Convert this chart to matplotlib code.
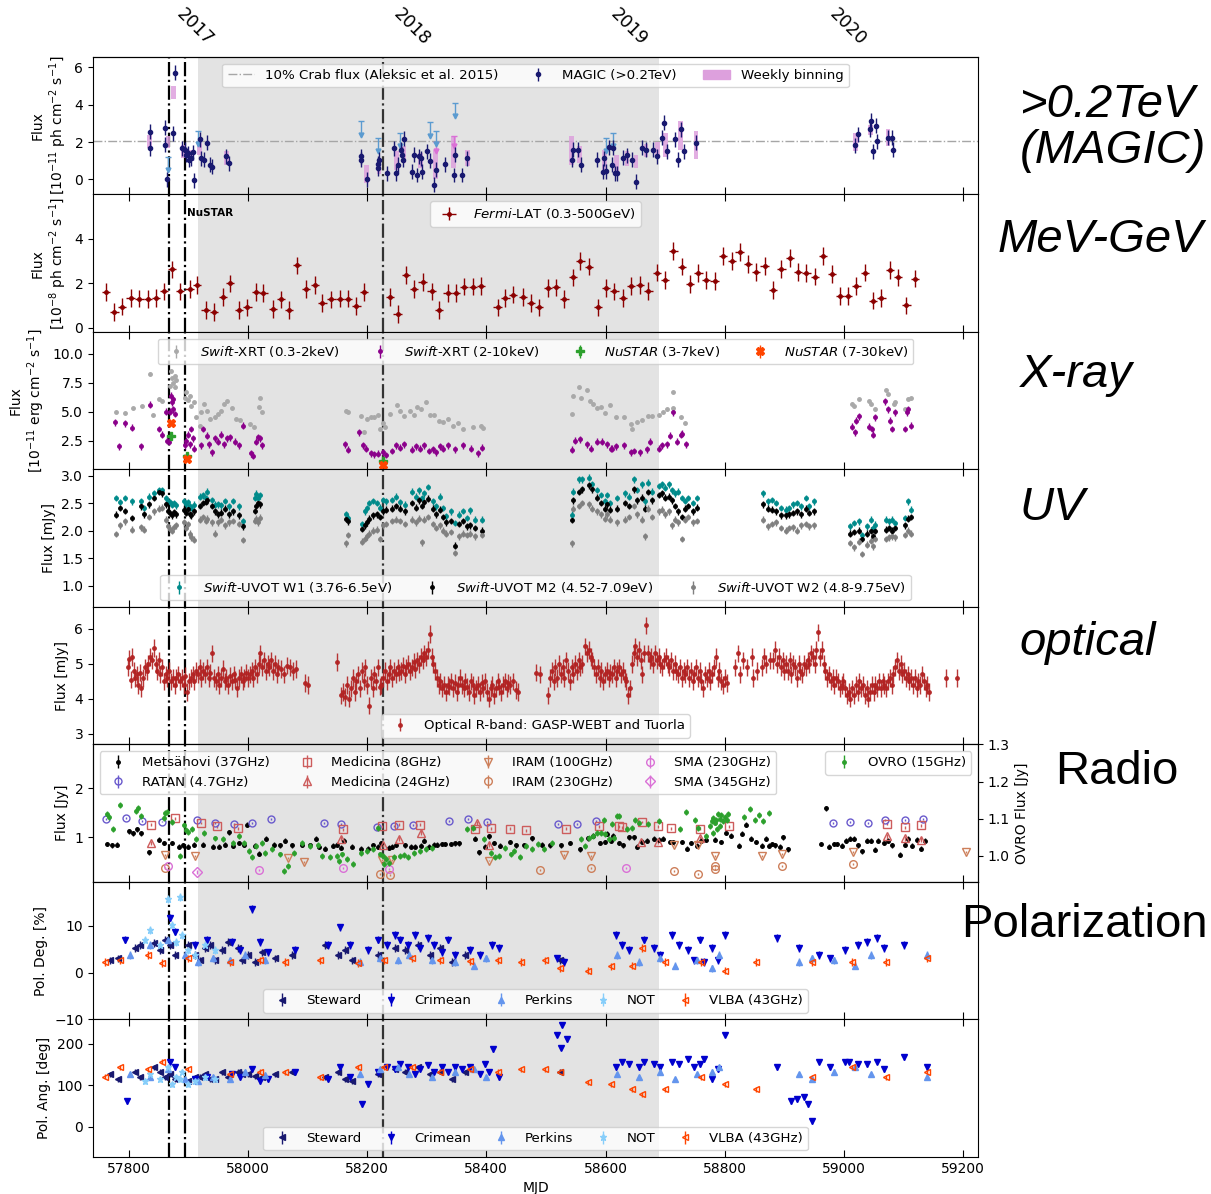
import numpy as np
import matplotlib.pyplot as plt
from matplotlib.patches import Patch
from matplotlib.lines import Line2D

# ---------------- VHE gamma rays (MAGIC, >0.2 TeV) ----------------
magic_mjd = [57835, 57835, 57861, 57861, 57865, 57875, 57878, 57889, 57894, 57896, 57899, 57901,
             57904, 57908, 57910, 57919, 57922, 57927, 57932, 57936, 57939, 57964, 57968,
             58189, 58190, 58199, 58218, 58219, 58220, 58234, 58245, 58249, 58252, 58257, 58259,
             58261, 58262, 58275, 58279, 58283, 58287, 58290, 58292, 58300, 58305, 58312, 58315,
             58331, 58345, 58347, 58360, 58368,
             58543, 58546, 58554, 58559, 58585, 58595, 58598, 58605, 58611, 58616, 58600, 58613,
             58619, 58629, 58636, 58644, 58651, 58661, 58668, 58679, 58687, 58694, 58698, 58703,
             58716, 58721, 58726, 58731, 58752,
             59019, 59023, 59043, 59046, 59049, 59054, 59056, 59074, 59080, 59083]
magic_flux = [2.55, 1.68, 2.77, 1.87, 0.0, 2.48, 5.7, 1.68, 1.6, 1.32, 1.41, 1.05,
              1.14, 1.45, -0.04, 2.14, 1.14, 1.05, 1.96, 0.78, 0.69, 1.23, 0.87,
              1.05, 1.23, 0.0, 0.6, 0.83, 1.05, 0.33, 1.68, 0.33, 0.78, 1.6, 1.32,
              1.05, 2.19, 0.42, 1.32, 0.24, 1.23, 1.14, 0.42, 1.5, 1.0, -0.27, 0.51,
              0.82, 0.24, 1.32, 0.24, 1.14,
              1.05, 1.6, 1.6, 0.78, 1.05, 0.42, 1.14, 1.72, 0.78, 0.33, 0.43, 1.69,
              0.34, 1.15, 1.3, 1.06, -0.11, 1.69, 1.6, 1.6, 1.24, 2.23, 3.04, 1.51,
              2.15, 1.06, 2.69, 1.51, 1.96,
              1.82, 2.42, 2.69, 3.14, 1.51, 2.87, 2.05, 2.23, 2.23, 1.6]
magic_ul_mjd = [57866, 57917, 58190, 58218, 58255, 58305, 58315, 58347, 58600, 58613]
magic_ul = [1.2, 2.6, 3.1, 2.2, 2.5, 3.05, 2.6, 4.1, 2.2, 2.5]
week_mjd = [57835, 57866, 57875, 57892, 57905, 57919, 57964, 58199, 58220, 58249, 58262, 58290,
            58315, 58345, 58368, 58543, 58556, 58598, 58619, 58636, 58651, 58668, 58687, 58700,
            58726, 58752, 59019, 59045, 59074]
week_lo = [1.7, 1.7, 4.3, 1.15, 1.0, 1.3, 0.8, -0.2, 0.3, 0.5, 0.9, 0.6,
           0.0, 0.6, 0.7, 0.8, 0.9, 0.5, 0.4, 0.7, 0.6, 1.2, 1.3, 1.2,
           1.6, 1.1, 1.5, 2.4, 1.8]
week_hi = [2.4, 2.3, 5.0, 1.85, 1.6, 2.0, 1.5, 0.8, 1.0, 1.5, 1.8, 1.4,
           1.6, 2.3, 1.6, 2.3, 1.8, 1.6, 1.3, 1.5, 1.3, 1.9, 2.0, 2.5,
           3.1, 2.6, 2.5, 2.9, 2.7]
week_ul_mjd = [58315, 58345]
week_ul = [2.0, 2.3]
crab10 = 2.07

# ---------------- Fermi-LAT ----------------
fermi_mjd = [57762, 57776, 57789, 57803, 57818, 57832, 57846, 57859, 57873, 57886, 57902, 57915,
             57929, 57943, 57958, 57970, 57985, 57999, 58013, 58026, 58042, 58055, 58069, 58082,
             58097, 58112, 58125, 58140, 58154, 58168, 58182, 58195, 58238, 58251, 58265, 58279,
             58293, 58308, 58321, 58335, 58349, 58363, 58378, 58391, 58419, 58432, 58445, 58461,
             58475, 58488, 58503, 58517, 58531, 58545, 58558, 58572, 58587, 58601, 58615, 58629,
             58643, 58658, 58672, 58686, 58700, 58714, 58728, 58742, 58756, 58769, 58783, 58797,
             58812, 58825, 58839, 58853, 58867, 58881, 58895, 58909, 58923, 58937, 58951, 58965,
             58980, 58993, 59007, 59021, 59035, 59049, 59063, 59077, 59091, 59105, 59119]
fermi_flux = [1.6, 0.7, 0.96, 1.35, 1.32, 1.31, 1.34, 1.64, 2.63, 1.64, 1.75, 1.93,
              0.81, 0.7, 1.38, 2.0, 0.79, 0.92, 1.63, 1.57, 0.84, 1.28, 0.8, 2.81,
              1.76, 1.93, 1.13, 1.28, 1.32, 1.32, 0.99, 1.6, 1.4, 0.63, 2.37, 1.75,
              2.07, 1.64, 0.81, 1.57, 1.57, 1.86, 1.86, 1.89, 0.92, 1.34, 1.5, 1.38,
              1.13, 0.92, 1.79, 1.82, 1.31, 2.27, 3.0, 2.76, 0.92, 1.79, 1.64, 1.33,
              1.87, 1.93, 1.66, 2.49, 2.16, 3.45, 2.76, 1.97, 2.46, 2.16, 2.12, 3.23,
              3.0, 3.4, 2.86, 2.52, 2.79, 1.7, 2.64, 3.16, 2.52, 2.46, 2.31, 3.23,
              2.44, 1.42, 1.45, 1.87, 2.49, 1.23, 1.33, 2.59, 2.27, 1.01, 2.22]

# ---------------- X-rays ----------------
xrt_soft_mjd = [57778, 57793, 57807, 57823, 57835, 57840, 57850, 57856, 57870, 57871, 57872, 57875,
                57877, 57878, 57879, 57894, 57896, 57899, 57902, 57904, 57909, 57912, 57919, 57922,
                57927, 57932, 57937, 57945, 57950, 57955, 57960, 57965, 57973, 57980, 57987, 58003,
                58010, 58018, 58021, 58023,
                58164, 58168, 58189, 58195, 58199, 58206, 58212, 58219, 58222, 58226, 58230, 58239,
                58250, 58255, 58262, 58272, 58278, 58283, 58290, 58298, 58305, 58313, 58320, 58328,
                58336, 58344, 58353, 58361, 58378, 58391, 58394,
                58543, 58546, 58555, 58559, 58569, 58574, 58579, 58585, 58592, 58599, 58608, 58617,
                58631, 58642, 58645, 58653, 58661, 58672, 58678, 58689, 58697, 58703, 58713, 58714,
                58726, 58734,
                59013, 59017, 59026, 59042, 59046, 59053, 59071, 59074, 59084, 59086, 59103, 59108,
                59113]
xrt_soft = [5.0, 4.9, 5.3, 5.5, 8.3, 4.7, 6.1, 5.9, 7.2, 8.5, 7.9, 7.5,
            8.1, 7.1, 7.7, 6.2, 6.7, 6.0, 6.4, 5.5, 5.8, 4.5, 3.8, 5.0,
            5.7, 5.1, 4.4, 4.5, 4.8, 5.1, 5.7, 5.9, 5.3, 4.4, 4.3, 3.9,
            3.7, 5.4, 6.2, 5.0,
            5.1, 5.0, 4.6, 3.2, 4.4, 4.5, 4.5, 4.7, 3.5, 4.0, 3.7, 4.8,
            5.6, 5.1, 4.6, 5.1, 4.7, 5.4, 5.2, 5.8, 4.7, 4.7, 4.2, 4.1,
            4.4, 3.8, 4.0, 3.5, 3.7, 3.8, 3.6,
            4.8, 6.4, 7.1, 6.2, 6.9, 5.9, 5.7, 5.3, 5.4, 4.9, 5.6, 4.5,
            4.5, 3.95, 3.5, 4.1, 4.3, 4.6, 4.6, 4.7, 5.0, 5.2, 6.7, 5.3,
            4.5, 4.0,
            5.7, 5.5, 6.1, 5.9, 5.7, 5.2, 6.9, 6.5, 5.7, 5.8, 5.2, 6.1,
            6.2]
xrt_hard_mjd = [57777, 57784, 57793, 57805, 57821, 57835, 57850, 57856, 57863, 57865, 57868, 57870,
                57871, 57872, 57874, 57875, 57877, 57894, 57896, 57899, 57902, 57904, 57907, 57910,
                57922, 57925, 57931, 57935, 57939, 57944, 57950, 57955, 57960, 57965, 57970, 57978,
                57985, 57991, 58005, 58009, 58013, 58017, 58021, 58024,
                58163, 58168, 58187, 58193, 58198, 58206, 58212, 58219, 58226, 58232, 58241, 58249,
                58255, 58262, 58275, 58282, 58288, 58295, 58303, 58310, 58316, 58322, 58328, 58335,
                58348, 58361, 58374, 58386, 58393,
                58543, 58549, 58558, 58569, 58576, 58585, 58594, 58603, 58609, 58611, 58617, 58631,
                58642, 58647, 58658, 58669, 58675, 58689, 58695, 58703, 58708, 58713, 58720, 58726,
                58728, 58735,
                59014, 59018, 59021, 59025, 59042, 59047, 59049, 59052, 59069, 59074, 59078, 59080,
                59085, 59102, 59106, 59108, 59113]
xrt_hard = [4.1, 2.0, 4.0, 3.6, 2.0, 5.6, 3.5, 3.0, 5.0, 2.5, 2.4, 5.0,
            6.4, 5.8, 5.2, 6.1, 4.8, 2.1, 2.5, 3.0, 2.2, 3.5, 2.7, 1.8,
            2.1, 3.5, 2.9, 2.2, 1.5, 2.7, 2.4, 3.0, 2.2, 2.7, 2.8, 2.4,
            2.1, 3.8, 1.4, 1.2, 2.4, 2.8, 2.7, 2.1,
            2.2, 1.7, 3.2, 2.1, 1.8, 1.4, 1.3, 1.35, 1.5, 1.25, 1.6, 2.1,
            1.9, 2.2, 1.7, 2.0, 1.8, 2.1, 1.6, 1.75, 1.5, 2.0, 1.8, 2.1,
            1.75, 2.1, 1.8, 1.4, 1.9,
            1.7, 2.5, 2.6, 2.2, 1.8, 2.4, 2.4, 2.2, 1.8, 1.8, 2.0, 2.1,
            1.5, 1.6, 1.5, 1.75, 2.4, 1.8, 2.1, 2.2, 2.9, 4.95, 2.4, 3.0,
            3.1, 2.2,
            3.7, 3.2, 4.2, 4.6, 3.7, 3.5, 3.0, 4.5, 5.9, 5.2, 4.2, 3.5,
            4.95, 3.5, 4.95, 5.2, 3.8]
nustar_mjd = [57871, 57898, 58227]
nustar_soft = [2.9, 1.2, 0.7]
nustar_hard = [4.0, 0.9, 0.4]

# ---------------- UV (Swift-UVOT) ----------------
uvot_mjd = [57778, 57785, 57793, 57805, 57821, 57826, 57834, 57842, 57850, 57856, 57863, 57866,
            57870, 57873, 57876, 57879, 57892, 57896, 57899, 57902, 57905, 57909, 57919, 57924,
            57929, 57932, 57939, 57944, 57949, 57955, 57962, 57968, 57975, 57985, 57991, 58011,
            58014, 58017, 58021,
            58164, 58168, 58191, 58196, 58199, 58203, 58209, 58216, 58221, 58226, 58232, 58241,
            58249, 58255, 58263, 58275, 58282, 58287, 58292, 58296, 58302, 58310, 58316, 58322,
            58328, 58333, 58341, 58348, 58354, 58361, 58368, 58373, 58381, 58393,
            58543, 58546, 58556, 58560, 58572, 58577, 58585, 58592, 58599, 58603, 58608, 58619,
            58633, 58639, 58647, 58653, 58661, 58667, 58672, 58678, 58689, 58695, 58700, 58706,
            58711, 58717, 58722, 58728, 58733, 58739, 58747, 58754,
            58865, 58872, 58880, 58886, 58894, 58903, 58908, 58914, 58922, 58928, 58936, 58942,
            58950,
            59011, 59017, 59025, 59031, 59039, 59045, 59049, 59053, 59071, 59075, 59081, 59086,
            59102, 59108, 59112]
uvot_w1 = [2.59, 2.52, 2.59, 2.53, 2.54, 2.41, 2.62, 2.68, 2.73, 2.74, 2.59, 2.54,
           2.52, 2.47, 2.50, 2.46, 2.54, 2.48, 2.52, 2.44, 2.41, 2.47, 2.62, 2.64,
           2.59, 2.71, 2.56, 2.47, 2.48, 2.46, 2.54, 2.44, 2.54, 2.44, 2.17, 2.59,
           2.67, 2.59, 2.64,
           2.30, 2.24, 2.12, 2.35, 2.41, 2.50, 2.54, 2.50, 2.42, 2.56, 2.53, 2.56,
           2.62, 2.52, 2.47, 2.71, 2.62, 2.73, 2.59, 2.68, 2.79, 2.53, 2.44, 2.62,
           2.41, 2.26, 2.35, 2.14, 2.29, 2.36, 2.23, 2.37, 2.20, 2.20,
           2.29, 2.71, 2.93, 2.93, 2.96, 2.84, 2.74, 2.65, 2.53, 2.65, 2.50, 2.59,
           2.68, 2.62, 2.93, 2.74, 2.84, 2.53, 2.87, 2.71, 2.81, 2.84, 2.78, 2.84,
           2.73, 2.68, 2.71, 2.59, 2.54, 2.59, 2.50, 2.59,
           2.68, 2.53, 2.56, 2.50, 2.41, 2.38, 2.41, 2.48, 2.50, 2.44, 2.59, 2.44,
           2.53,
           2.08, 2.14, 2.17, 1.92, 2.08, 2.20, 2.05, 2.11, 2.20, 2.17, 2.20, 2.14,
           2.23, 2.53, 2.38]
uvot_m2 = [2.29, 2.41, 2.36, 2.23, 2.44, 2.30, 2.48, 2.60, 2.70, 2.68, 2.48, 2.36,
           2.32, 2.28, 2.34, 2.30, 2.38, 2.32, 2.40, 2.30, 2.28, 2.35, 2.45, 2.50,
           2.52, 2.55, 2.45, 2.35, 2.30, 2.33, 2.40, 2.30, 2.35, 2.28, 2.08, 2.36,
           2.45, 2.50, 2.48,
           2.22, 2.17, 2.04, 2.10, 2.15, 2.22, 2.28, 2.30, 2.25, 2.35, 2.38, 2.40,
           2.45, 2.40, 2.35, 2.50, 2.42, 2.55, 2.45, 2.52, 2.58, 2.40, 2.30, 2.38,
           2.25, 2.15, 2.18, 1.73, 2.12, 2.18, 2.08, 2.10, 2.05, 2.00,
           2.20, 2.55, 2.70, 2.75, 2.82, 2.75, 2.60, 2.50, 2.40, 2.48, 2.38, 2.40,
           2.50, 2.45, 2.75, 2.55, 2.60, 2.40, 2.70, 2.55, 2.65, 2.68, 2.60, 2.62,
           2.55, 2.45, 2.35, 2.25, 2.40, 2.45, 2.35, 2.42,
           2.48, 2.40, 2.38, 2.35, 2.28, 2.28, 2.30, 2.32, 2.35, 2.30, 2.40, 2.32,
           2.35,
           1.95, 1.98, 2.00, 1.85, 1.95, 2.00, 1.90, 2.00, 2.02, 2.05, 2.00, 2.05,
           2.10, 2.22, 2.25]
uvot_w2 = [1.94, 2.10, 2.17, 2.02, 2.06, 2.02, 2.25, 2.35, 2.40, 2.42, 2.20, 2.08,
           2.04, 2.00, 2.07, 2.10, 2.15, 2.05, 2.12, 1.95, 1.88, 1.84, 2.20, 2.25,
           2.18, 2.22, 2.15, 1.95, 2.15, 2.20, 2.10, 2.15, 2.18, 2.12, 1.83, 2.18,
           2.22, 2.15, 2.24,
           1.77, 1.92, 1.80, 1.85, 1.90, 1.95, 2.00, 2.02, 1.85, 2.10, 2.12, 2.18,
           2.20, 2.18, 2.12, 2.20, 2.15, 2.22, 1.79, 2.20, 2.25, 2.12, 2.05, 2.10,
           2.00, 1.95, 1.98, 1.60, 1.90, 1.95, 1.92, 1.95, 1.90, 1.92,
           1.77, 2.40, 2.45, 2.50, 2.48, 2.40, 2.35, 2.30, 2.22, 2.30, 2.20, 2.15,
           2.20, 2.25, 2.45, 2.30, 2.20, 1.90, 2.40, 2.25, 2.35, 2.38, 2.30, 2.35,
           2.10, 2.20, 2.15, 1.85, 2.20, 2.25, 2.15, 2.18,
           2.20, 2.08, 2.12, 2.15, 2.05, 2.00, 2.05, 2.06, 2.00, 2.10, 2.12, 2.08,
           2.10,
           1.78, 1.70, 1.80, 1.58, 1.75, 1.82, 1.72, 1.85, 1.85, 1.88, 1.90, 1.88,
           1.92, 2.00, 1.95]

# ---------------- Optical R band ----------------
opt_mjd = [57799, 57801, 57803, 57805, 57808, 57811, 57814, 57816, 57819, 57821, 57824, 57827,
           57830, 57833, 57836, 57839, 57842, 57845, 57848, 57850, 57853, 57856, 57859, 57862,
           57865, 57868, 57871, 57874, 57877, 57880, 57883, 57886, 57889, 57892, 57895, 57898,
           57901, 57904, 57907, 57910, 57913, 57916, 57919, 57922, 57925, 57928, 57931, 57934,
           57937, 57940, 57943, 57946, 57949, 57952, 57955, 57958, 57961, 57964, 57967, 57970,
           57973, 57976, 57979, 57982, 57985, 57988, 57991, 57994, 57997, 58000, 58003, 58006,
           58009, 58012, 58015, 58018, 58021, 58024, 58027, 58030, 58033, 58036, 58039, 58042,
           58045, 58048, 58051, 58055, 58060, 58065, 58070, 58075, 58080, 58095, 58100,
           58150, 58156, 58160, 58163, 58167, 58170, 58173, 58176, 58179, 58182, 58185, 58188,
           58191, 58194, 58197, 58200, 58203, 58206, 58209, 58212, 58215, 58218, 58221, 58224,
           58227, 58230, 58233, 58236, 58239, 58242, 58245, 58248, 58251, 58254, 58257, 58260,
           58263, 58266, 58269, 58272, 58275, 58278, 58281, 58284, 58287, 58290, 58293, 58296,
           58299, 58302, 58305, 58308, 58311, 58314, 58317, 58320, 58323, 58326, 58329, 58332,
           58335, 58338, 58341, 58344, 58347, 58350, 58353, 58356, 58359, 58362, 58365, 58368,
           58371, 58374, 58377, 58380, 58383, 58386, 58389, 58392, 58395, 58398, 58401, 58404,
           58407, 58410, 58413, 58416, 58419, 58422, 58425, 58428, 58431, 58434, 58437, 58440,
           58445, 58450, 58453,
           58483, 58490, 58503, 58506, 58510, 58513, 58516, 58519, 58522, 58525, 58528, 58531,
           58534, 58537, 58540, 58543, 58546, 58549, 58552, 58555, 58558, 58561, 58566, 58569,
           58572, 58575, 58578, 58581, 58584, 58587, 58590, 58593, 58596, 58599, 58602, 58605,
           58608, 58611, 58614, 58617, 58620, 58623, 58626, 58629, 58632, 58635, 58638, 58641,
           58644, 58647, 58650, 58653, 58656, 58659, 58662, 58665, 58668, 58671, 58674, 58677,
           58680, 58683, 58686, 58689, 58692, 58695, 58698, 58701, 58704, 58707, 58710, 58713,
           58716, 58719, 58722, 58725, 58728, 58731, 58734, 58737, 58740, 58743, 58746, 58749,
           58752, 58755, 58758, 58761, 58764, 58767, 58770, 58773, 58776, 58779, 58782, 58785,
           58788, 58791, 58794, 58797, 58800, 58803,
           58818, 58822, 58826, 58830, 58838, 58845, 58848, 58855, 58862, 58866, 58870, 58876,
           58881, 58885, 58888, 58891, 58894, 58897, 58900, 58903, 58906, 58909, 58912, 58915,
           58918, 58921, 58924, 58927, 58930, 58933, 58936, 58939, 58942, 58945, 58948, 58951,
           58954, 58957, 58960, 58963, 58966, 58969, 58972, 58975, 58978, 58981, 58984, 58987,
           58990, 58993, 58996, 58999, 59002, 59005, 59008, 59011, 59014, 59017, 59020, 59023,
           59026, 59029, 59032, 59035, 59038, 59041, 59044, 59047, 59050, 59053, 59056, 59059,
           59062, 59065, 59068, 59071, 59074, 59077, 59080, 59083, 59086, 59089, 59092, 59095,
           59098, 59101, 59104, 59107, 59110, 59113, 59116, 59119, 59122, 59125, 59128, 59131,
           59134, 59137, 59140, 59143, 59172, 59189]
opt_flux = [4.9, 5.15, 4.55, 5.2, 4.8, 4.6, 4.7, 4.4, 4.75, 4.3, 4.6, 4.9,
            4.8, 5.0, 5.2, 5.1, 5.45, 5.0, 4.8, 5.1, 4.7, 4.9, 4.5, 4.7,
            4.6, 4.8, 4.5, 4.6, 4.4, 4.6, 4.7, 4.5, 4.6, 4.4, 4.65, 4.2,
            4.5, 4.6, 4.7, 4.5, 4.8, 4.7, 4.9, 4.6, 4.8, 4.7, 4.9, 4.6,
            4.75, 5.3, 4.6, 4.5, 4.7, 4.4, 4.6, 4.85, 4.5, 4.6, 4.4, 4.65,
            4.5, 4.7, 4.55, 4.3, 4.6, 4.7, 4.5, 4.6, 4.75, 4.6, 4.7, 4.8,
            4.6, 4.9, 4.7, 5.0, 5.3, 4.9, 5.1, 4.8, 5.0, 4.9, 5.1, 4.8,
            5.0, 4.7, 4.9, 4.85, 4.7, 4.95, 4.9, 4.8, 4.85, 4.45, 4.4,
            5.05, 4.1, 4.2, 4.05, 4.4, 4.0, 4.3, 4.6, 4.2, 4.5, 4.7, 4.3,
            4.8, 4.5, 4.9, 4.4, 3.8, 4.6, 4.3, 4.7, 4.5, 4.9, 4.35, 4.4,
            4.6, 4.8, 4.5, 4.7, 4.9, 4.6, 4.8, 4.7, 4.9, 4.75, 4.8, 4.95,
            4.7, 4.9, 5.0, 4.8, 4.9, 5.05, 4.85, 5.1, 5.0, 5.2, 5.1, 5.3,
            5.2, 5.4, 5.85, 5.2, 5.0, 4.8, 4.6, 4.4, 4.5, 4.3, 4.4, 4.2,
            4.4, 4.35, 4.5, 4.3, 4.45, 4.2, 4.4, 4.6, 4.4, 4.3, 4.5, 4.35,
            4.2, 4.5, 4.4, 4.1, 4.3, 4.4, 4.2, 4.45, 4.3, 4.5, 4.2, 4.0,
            4.3, 4.4, 4.1, 4.3, 4.5, 4.35, 4.2, 4.4, 4.5, 4.3, 4.45, 4.4,
            4.5, 4.25, 4.2,
            4.75, 4.7, 4.1, 4.6, 4.8, 4.5, 4.9, 4.6, 5.0, 4.7, 4.9, 4.6,
            5.1, 4.8, 4.5, 4.9, 4.7, 5.0, 4.8, 5.1, 4.9, 5.0, 5.5, 5.3,
            5.4, 5.2, 5.1, 4.9, 4.7, 4.9, 4.6, 4.8, 4.5, 4.7, 4.8, 4.6,
            4.75, 4.7, 4.9, 4.6, 4.8, 4.9, 4.7, 4.8, 4.6, 4.5, 4.1, 4.3,
            5.0, 5.3, 5.5, 5.2, 5.4, 5.1, 4.7, 5.3, 6.1, 5.3, 5.1, 5.2,
            5.0, 5.3, 5.1, 5.2, 5.0, 4.9, 5.1, 5.2, 5.0, 4.9, 5.1, 4.8,
            5.0, 4.8, 4.7, 4.9, 4.6, 4.8, 4.7, 4.9, 4.6, 4.8, 4.5, 4.7,
            4.9, 4.6, 4.8, 4.5, 4.3, 4.7, 4.6, 4.8, 4.5, 4.7, 4.9, 5.2,
            4.6, 4.8, 4.5, 4.4, 4.6, 4.45,
            4.9, 5.3, 4.7, 5.1, 4.9, 5.2, 4.6, 4.8, 4.9, 5.2, 5.0, 5.1,
            5.1, 5.4, 5.0, 5.2, 4.9, 5.1, 4.8, 5.0, 4.8, 5.1, 4.7, 5.0,
            4.9, 4.6, 5.0, 4.8, 4.7, 5.0, 4.9, 5.1, 5.0, 5.3, 5.2, 5.0,
            5.4, 5.9, 5.2, 5.4, 5.0, 4.8, 4.6, 4.7, 4.5, 4.6, 4.4, 4.6,
            4.5, 4.3, 4.4, 4.5, 4.3, 4.1, 4.2, 4.0, 4.3, 4.1, 4.4, 4.2,
            4.5, 4.3, 4.4, 4.1, 4.3, 4.0, 4.2, 4.4, 4.2, 4.4, 4.3, 4.5,
            4.3, 4.5, 4.4, 4.3, 4.5, 4.6, 4.4, 4.7, 4.9, 5.1, 4.8, 5.0,
            4.7, 4.8, 4.6, 4.7, 4.5, 4.6, 4.4, 4.6, 4.3, 4.5, 4.4, 4.7,
            4.5, 4.3, 4.4, 4.2, 4.6, 4.6]

# ---------------- Radio ----------------
mets_mjd = [57764, 57772, 57780, 57800, 57807, 57813, 57820, 57834, 57850, 57859, 57873, 57884,
            57891, 57899, 57909, 57925, 57942, 57952, 57962, 57968, 57975, 57985, 57993, 57999,
            58011, 58018, 58030, 58044, 58054, 58063, 58074, 58090, 58104, 58114, 58120, 58129,
            58142, 58149, 58156, 58162, 58175, 58189, 58201, 58210, 58219, 58224, 58236, 58241,
            58249, 58263, 58274, 58280, 58290, 58295, 58303, 58312, 58318, 58325, 58331, 58340,
            58348, 58354, 58381, 58387, 58397, 58405, 58413, 58423, 58440, 58450, 58463, 58476,
            58493, 58506, 58526, 58540, 58557, 58570, 58579, 58591, 58599, 58609,
            58603, 58613, 58622, 58630, 58639, 58647, 58653, 58661, 58669, 58681, 58689, 58697,
            58708, 58714, 58728, 58737, 58744, 58753, 58761, 58768, 58783, 58794, 58802, 58811,
            58824, 58829, 58836, 58844, 58853, 58863, 58869, 58875, 58880, 58885, 58892, 58898,
            58907, 58961, 58970, 58975, 58983, 58989, 58996, 59003, 59011, 59017, 59024, 59031,
            59039, 59045, 59052, 59058, 59067, 59074, 59081, 59094, 59102, 59108, 59115, 59122,
            59129, 59136]
mets_flux = [0.86, 0.83, 0.84, 1.12, 1.08, 1.16, 1.08, 0.69, 0.95, 0.88, 0.88, 0.8,
             0.83, 0.8, 0.84, 0.84, 0.8, 0.8, 0.84, 1.1, 0.82, 0.88, 0.84, 1.25,
             0.82, 0.66, 0.97, 0.84, 0.83, 0.93, 0.83, 0.84, 0.83, 0.97, 0.8, 0.76,
             0.82, 0.84, 0.78, 0.93, 0.8, 0.76, 0.76, 0.83, 0.8, 0.88, 0.78, 0.8,
             0.84, 0.83, 0.8, 0.8, 0.82, 0.93, 0.8, 0.84, 0.84, 0.86, 0.86, 0.86,
             0.87, 0.87, 0.97, 0.69, 0.8, 1.02, 0.88, 0.82, 0.9, 0.83, 0.83, 0.98,
             0.84, 0.83, 0.83, 0.88, 0.75, 0.98, 1.03, 0.88, 0.9, 0.93,
             1.07, 1.03, 0.88, 0.83, 1.0, 1.0, 0.8, 0.91, 0.93, 0.97, 0.95, 0.97,
             0.9, 0.9, 0.9, 0.76, 0.88, 0.82, 0.93, 0.95, 0.95, 0.9, 1.09, 1.03,
             0.82, 1.07, 1.25, 0.97, 0.9, 0.82, 0.97, 0.82, 0.86, 0.83, 0.8, 1.0,
             0.75, 0.86, 1.59, 0.8, 0.86, 0.86, 0.82, 0.93, 0.97, 0.97, 0.83, 0.71,
             0.93, 0.93, 0.74, 0.93, 0.88, 0.93, 0.83, 0.64, 0.84, 0.97, 0.82, 0.95,
             0.76, 0.93]
ratan_mjd = [57762, 57795, 57823, 57855, 57914, 57945, 57976, 58006, 58038, 58128, 58156, 58217,
             58245, 58277, 58338, 58370, 58401, 58521, 58552, 58584, 58981, 59011, 59041, 59069,
             59102, 59132]
ratan_flux = [1.37, 1.39, 1.34, 1.32, 1.35, 1.29, 1.27, 1.29, 1.37, 1.29, 1.27, 1.2,
              1.22, 1.25, 1.34, 1.37, 1.31, 1.27, 1.27, 1.34, 1.29, 1.31, 1.29, 1.36,
              1.36, 1.37]
med8_mjd = [57838, 57877, 57921, 57948, 57983, 58160, 58225, 58254, 58288, 58381, 58407, 58439,
            58467, 58533, 58589, 58622, 58627, 58661, 58688, 58710, 58758, 58808, 59072, 59103,
            59129]
med8_flux = [1.25, 1.39, 1.29, 1.22, 1.18, 1.16, 1.22, 1.25, 1.25, 1.17, 1.18, 1.17,
             1.14, 1.17, 1.22, 1.22, 1.2, 1.31, 1.22, 1.18, 1.17, 1.22, 1.27, 1.2,
             1.24]
med24_mjd = [57838, 58156, 58226, 58254, 58290, 58384, 58404, 58660, 58688, 58758, 59072, 59103,
             59129]
med24_flux = [0.88, 0.97, 0.84, 0.97, 1.09, 1.29, 0.84, 0.9, 0.91, 0.98, 1.02, 0.98, 0.95]
iram100_mjd = [57861, 57911, 58067, 58094, 58225, 58241, 58404, 58530, 58576, 58715, 58755, 58783,
               58862, 58896, 59015, 59205]
iram100_flux = [0.64, 0.61, 0.57, 0.48, 0.54, 0.54, 0.52, 0.64, 0.61, 0.84, 0.84, 0.62,
                0.62, 0.65, 0.69, 0.69]
iram230_mjd = [57860, 58222, 58239, 58490, 58576, 58715, 58755, 58783, 58783, 58896, 59015]
iram230_flux = [0.37, 0.25, 0.22, 0.33, 0.37, 0.3, 0.25, 0.41, 0.34, 0.41, 0.44]
sma230_mjd = [57866, 58019, 58160, 58236, 58634]
sma230_flux = [0.4, 0.33, 0.37, 0.34, 0.36]
sma345_mjd = [57914]
sma345_flux = [0.29]
ovro_mjd = [57764, 57767, 57774, 57785, 57812, 57815, 57820, 57859, 57861, 57865, 57873, 57886,
            57892, 57896, 57899, 57906, 57912, 57927, 57945, 57958, 57975, 57985, 57993, 58001,
            58006, 58014, 58024, 58028, 58041, 58054, 58061, 58067, 58077, 58090, 58104, 58117,
            58125, 58137, 58150, 58153, 58158, 58167, 58176, 58189, 58199, 58209, 58219, 58222,
            58226, 58229, 58232, 58236, 58245, 58255, 58262, 58269, 58279, 58288, 58298, 58308,
            58368, 58378, 58396, 58408, 58414, 58422, 58431, 58441, 58447, 58457, 58467, 58477,
            58487, 58497, 58510, 58559, 58566, 58573, 58579, 58586, 58592, 58599, 58606, 58615,
            58620, 58597, 58611, 58622, 58636, 58644, 58650, 58656, 58672, 58689, 58725, 58735,
            58750, 58755, 58769, 58775, 58778, 58780, 58783, 58786, 58789, 58792, 58794, 58797,
            58800, 58803, 58787, 58792, 58806, 58781, 58832, 58843, 58851, 58858, 58864, 58875]
ovro_flux = [1.112, 1.105, 1.072, 1.136, 1.121, 1.13, 1.107, 1.103, 1.115, 1.118, 1.091, 1.0,
             1.082, 1.07, 1.064, 1.073, 1.045, 1.063, 1.047, 1.045, 1.036, 1.054, 1.036, 1.013,
             0.996, 1.027, 1.036, 1.009, 1.018, 1.004, 0.96, 0.973, 1.009, 1.036, 1.027, 1.029,
             1.0, 0.996, 1.0, 0.987, 1.004, 0.991, 0.978, 1.009, 1.013, 1.018, 1.076, 1.004,
             1.0, 0.978, 0.991, 0.982, 0.996, 1.0, 1.002, 0.996, 1.009, 1.013, 1.018, 1.022,
             1.072, 1.076, 1.045, 1.009, 0.996, 1.0, 1.022, 1.004, 1.013, 0.998, 1.027, 1.018,
             1.031, 1.018, 1.036, 1.045, 1.027, 1.049, 1.054, 1.063, 1.063, 1.058, 1.045, 1.049,
             1.107, 1.098, 1.085, 1.107, 1.072, 1.076, 1.098, 1.09, 1.085, 1.094, 1.072, 1.118,
             1.098, 1.076, 1.054, 1.081, 1.094, 1.103, 1.09, 1.098, 1.112, 1.1, 1.109, 1.094,
             1.106, 1.098, 1.072, 1.081, 1.112, 1.063, 1.106, 1.127, 1.098, 1.109, 1.094, 1.115]

# ---------------- Optical polarization ----------------
steward_mjd = [57768, 57782, 57810, 57819, 57843, 57852, 57861, 57869, 57877, 57899, 57911, 57919,
               57928, 57936, 57945, 57956, 57966, 57983, 57990, 58000, 58012, 58024, 58045, 58074,
               58129, 58151, 58163, 58174, 58218, 58246, 58263, 58285, 58305, 58322, 58342, 58364,
               58523]
steward_pd = [2.6, 3.0, 5.2, 5.9, 6.3, 4.8, 7.0, 5.9, 3.7, 5.9, 3.7, 2.6,
              5.2, 5.9, 2.6, 4.8, 6.5, 5.2, 2.6, 3.7, 2.2, 4.3, 3.0, 3.7,
              5.9, 3.7, 4.8, 2.6, 3.7, 5.2, 4.8, 5.9, 3.7, 5.2, 2.2, 3.7,
              2.6]
steward_pa = [126, 114, 133, 119, 143, 133, 119, 126, 114, 110, 119, 121,
              126, 114, 114, 131, 121, 133, 128, 126, 122, 119, 126, 133,
              119, 131, 114, 110, 126, 138, 133, 143, 126, 133, 114, 131,
              133]
crimean_pd_mjd = [57794, 57869, 57877, 57911, 57931, 57973, 57986, 58006, 58020, 58033, 58079, 58134,
                  58154, 58171, 58201, 58218, 58234, 58246, 58255, 58268, 58280, 58288, 58302, 58313,
                  58325, 58335, 58347, 58372, 58389, 58409, 58422, 58519, 58531, 58618, 58627, 58640,
                  58665, 58682, 58691, 58711, 58724, 58738, 58749, 58758, 58766, 58778, 58788, 58800,
                  58888, 58925, 58959, 58976, 59001, 59023, 59039, 59056, 59068, 59101]
crimean_pd = [7.0, 11.7, 8.7, 5.9, 7.0, 6.5, 4.8, 13.5, 6.5, 4.3, 4.8, 5.9,
              9.6, 5.9, 4.8, 7.0, 5.9, 8.0, 7.0, 5.9, 8.0, 5.2, 7.4, 5.9,
              4.3, 7.0, 3.7, 4.8, 3.7, 5.9, 5.2, 3.0, 2.2, 8.0, 5.9, 4.8,
              7.0, 5.2, 3.7, 8.0, 5.9, 4.8, 2.6, 7.0, 2.2, 5.2, 2.6, 8.0,
              7.4, 5.2, 3.7, 3.0, 4.8, 5.9, 6.5, 7.4, 5.2, 5.9]
crimean_pa_mjd = [57797, 57869, 57877, 57911, 57931, 57973, 57986, 58006, 58020, 58033, 58079, 58134,
                  58154, 58171, 58191, 58201, 58218, 58234, 58246, 58255, 58268, 58280, 58288, 58302,
                  58313, 58325, 58335, 58347, 58359, 58372, 58389, 58397, 58405, 58411, 58422, 58519,
                  58525, 58527, 58536, 58618, 58627, 58640, 58657, 58665, 58682, 58691, 58711, 58724,
                  58738, 58749, 58758, 58766, 58778, 58788, 58800, 58888, 58912, 58921, 58933, 58939,
                  58946, 58959, 58976, 59001, 59009, 59023, 59039, 59056, 59068, 59101, 59140]
crimean_pa = [62, 157, 143, 114, 119, 126, 119, 138, 110, 114, 133, 114,
              143, 119, 55, 102, 133, 143, 138, 150, 143, 126, 138, 148,
              133, 143, 133, 143, 138, 143, 126, 150, 133, 186, 119, 221,
              190, 245, 210, 143, 157, 150, 143, 157, 150, 143, 157, 150,
              162, 143, 150, 162, 114, 138, 221, 143, 62, 67, 71, 55,
              14, 157, 143, 157, 157, 150, 150, 157, 138, 167, 143]
perkins_mjd = [57802, 57836, 57866, 57894, 57916, 57941, 57970, 57995, 58029, 58188, 58221, 58251,
               58271, 58308, 58347, 58380, 58400, 58620, 58657, 58691, 58716, 58754, 58778, 58791,
               58925, 58946, 58984, 59018, 59046, 59140]
perkins_pd = [3.7, 5.9, 7.0, 3.7, 2.2, 3.0, 2.6, 3.7, 2.6, 2.2, 3.0, 2.6,
              3.7, 2.6, 2.2, 1.5, 3.0, 3.7, 2.2, 3.0, 1.5, 2.6, 0.9, 3.7,
              2.2, 3.0, 2.6, 1.5, 3.7, 3.7]
perkins_pa = [126, 119, 138, 114, 110, 119, 114, 133, 124, 126, 138, 143,
              126, 119, 133, 138, 119, 126, 119, 133, 114, 126, 133, 143,
              126, 114, 133, 143, 126, 119]
not_mjd = [57827, 57836, 57852, 57866, 57873, 57879, 57886, 57889, 57899, 57911, 57928, 57945]
not_pd = [7.0, 9.1, 5.9, 15.7, 10.2, 6.5, 16.1, 8.0, 4.8, 3.7, 5.9, 4.8]
not_pa = [110, 126, 114, 143, 102, 119, 114, 133, 102, 110, 119, 114]
vlba_mjd = [57760, 57785, 57832, 57855, 57899, 57970, 58020, 58062, 58121, 58184, 58229, 58275,
            58322, 58372, 58419, 58459, 58498, 58523, 58570, 58610, 58644, 58662, 58699, 58761,
            58800, 58853, 58946, 59013, 59071, 59140]
vlba_pd = [2.2, 2.6, 3.7, 2.0, 3.0, 2.2, 2.6, 2.2, 2.6, 2.0, 2.6, 3.0,
           2.6, 2.4, 2.6, 2.2, 2.6, 0.9, 0.4, 1.3, 1.5, 5.2, 2.2, 2.2,
           0.4, 2.2, 2.2, 2.2, 2.2, 3.0]
vlba_pa = [121, 143, 138, 157, 138, 126, 133, 131, 119, 143, 143, 143,
           133, 138, 133, 138, 138, 133, 107, 102, 90, 79, 90, 119,
           102, 90, 119, 143, 119, 133]

# ---------------- figure ----------------
hess_span = (57917, 58689)
flare_days = [57867, 57894]
nustar_day = 58227
year_ticks = [57911, 58275, 58640, 59006]
year_labels = ['2017', '2018', '2019', '2020']

fig, axes = plt.subplots(8, 1, figsize=(12.11, 11.94), dpi=100, sharex=True,
                         gridspec_kw=dict(hspace=0))
fig.subplots_adjust(left=0.0768, right=0.8076, bottom=0.031, top=0.9523)

for ax in axes:
    ax.axvspan(*hess_span, color='#e3e3e3', lw=0, zorder=0)
    for d in flare_days:
        ax.axvline(d, color='k', ls='-.', lw=1.6, zorder=1.5)
    ax.axvline(nustar_day, color='0.2', ls='-.', lw=1.6, zorder=1.5)
    ax.tick_params(axis='x', direction='in', top=True, length=5, labelsize=10)
    ax.tick_params(axis='y', labelsize=10)
axes[0].tick_params(axis='x', top=False)

eb = dict(ls='none', capsize=0, elinewidth=1)
leg = dict(fontsize=9.6)


def upper_limits(ax, x, ul, color, drop=0.7):
    ax.vlines(x, np.array(ul) - drop, ul, color=color, lw=1, zorder=3)
    ax.plot(x, np.array(ul) - drop, 'v', color=color, ms=3.5, zorder=3)
    ax.plot(x, ul, '_', color=color, ms=5, zorder=3)


# MAGIC
ax = axes[0]
ax.bar(week_mjd, np.subtract(week_hi, week_lo), bottom=week_lo, width=8,
       color='plum', alpha=0.85, zorder=2)
upper_limits(ax, week_ul_mjd, week_ul, 'orchid', drop=0.5)
upper_limits(ax, magic_ul_mjd, magic_ul, '#5b9bd0')
ax.errorbar(magic_mjd, magic_flux, yerr=0.4, fmt='o', ms=3, color='midnightblue', zorder=4, **eb)
ax.axhline(crab10, color='0.65', ls='-.', lw=1, zorder=1)
ax.set_ylim(-0.8, 6.55)
ax.set_yticks([0, 2, 4, 6])
ax.set_ylabel('Flux\n[10$^{-11}$ ph cm$^{-2}$ s$^{-1}$]', fontsize=10)
handles = [Line2D([], [], color='0.65', ls='-.', lw=1),
           ax.errorbar([], [], yerr=[], fmt='o', ms=3, color='midnightblue', **eb),
           Patch(color='plum')]
ax.legend(handles, ['10% Crab flux (Aleksic et al. 2015)', 'MAGIC (>0.2TeV)', 'Weekly binning'],
          loc='upper center', ncol=3, **leg)
top = ax.secondary_xaxis('top')
top.set_xticks(year_ticks, labels=year_labels)
top.tick_params(length=0, labelsize=12.5, pad=6)
plt.setp(top.get_xticklabels(), rotation=-45, ha='center')

# Fermi-LAT
ax = axes[1]
ax.errorbar(fermi_mjd, fermi_flux, xerr=7, yerr=0.4, fmt='o', ms=2.5, color='#8b0000',
            zorder=3, label='$\\it{Fermi}$-LAT (0.3-500GeV)', **eb)
ax.text(57898, 5.15, 'NuSTAR', fontsize=7.5, fontweight='bold', va='center')
ax.set_ylim(-0.18, 6.0)
ax.set_yticks([0, 2, 4])
ax.set_ylabel('Flux\n[10$^{-8}$ ph cm$^{-2}$ s$^{-1}$]', fontsize=10)
ax.legend(loc='upper center', **leg)

# X-rays
ax = axes[2]
ax.errorbar(xrt_soft_mjd, xrt_soft, yerr=0.1, fmt='o', ms=2.5, color='darkgray', zorder=3,
            label='$\\it{Swift}$-XRT (0.3-2keV)', **eb)
ax.errorbar(xrt_hard_mjd, xrt_hard, yerr=0.3, fmt='o', ms=2.5, color='darkmagenta', zorder=3,
            label='$\\it{Swift}$-XRT (2-10keV)', **eb)
ax.errorbar(nustar_mjd, nustar_soft, yerr=0.15, fmt='P', ms=6, color='#2ca02c', zorder=4,
            label='$\\it{NuSTAR}$ (3-7keV)', **eb)
ax.errorbar(nustar_mjd, nustar_hard, yerr=0.15, fmt='X', ms=6, color='orangered', zorder=4,
            label='$\\it{NuSTAR}$ (7-30keV)', **eb)
ax.set_ylim(0, 11.9)
ax.set_yticks([2.5, 5.0, 7.5, 10.0])
ax.set_yticklabels(['2.5', '5.0', '7.5', '10.0'])
ax.set_ylabel('Flux\n[10$^{-11}$ erg cm$^{-2}$ s$^{-1}$]', fontsize=10)
ax.legend(loc='upper center', ncol=4, **leg)

# UV
ax = axes[3]
ax.errorbar(uvot_mjd, uvot_w1, yerr=0.06, fmt='o', ms=2.5, color='darkcyan', zorder=3,
            label='$\\it{Swift}$-UVOT W1 (3.76-6.5eV)', **eb)
ax.errorbar(uvot_mjd, uvot_m2, yerr=0.06, fmt='o', ms=2.5, color='black', zorder=3,
            label='$\\it{Swift}$-UVOT M2 (4.52-7.09eV)', **eb)
ax.errorbar(uvot_mjd, uvot_w2, yerr=0.06, fmt='o', ms=2.5, color='gray', zorder=3,
            label='$\\it{Swift}$-UVOT W2 (4.8-9.75eV)', **eb)
ax.set_ylim(0.62, 3.11)
ax.set_yticks([1.0, 1.5, 2.0, 2.5, 3.0])
ax.set_ylabel('Flux [mJy]', fontsize=10)
ax.legend(loc='lower center', ncol=3, **leg)

# optical
ax = axes[4]
ax.errorbar(opt_mjd, opt_flux, yerr=0.25, fmt='o', ms=2.5, color='firebrick', zorder=3,
            label='Optical R-band: GASP-WEBT and Tuorla', alpha=0.9, **eb)
ax.set_ylim(2.69, 6.63)
ax.set_yticks([3, 4, 5, 6])
ax.set_ylabel('Flux [mJy]', fontsize=10)
ax.legend(loc='lower center', **leg)

# radio
ax = axes[5]
ax.errorbar(mets_mjd, mets_flux, yerr=0.05, fmt='o', ms=2.5, color='black', zorder=3,
            label='Metsähovi (37GHz)', **eb)
ax.errorbar(ratan_mjd, ratan_flux, yerr=0.02, fmt='o', ms=5, mfc='none', color='slateblue',
            zorder=3, label='RATAN (4.7GHz)', **eb)
ax.errorbar(med8_mjd, med8_flux, yerr=0.03, fmt='s', ms=5.5, mfc='none', color='indianred',
            zorder=3, label='Medicina (8GHz)', **eb)
ax.errorbar(med24_mjd, med24_flux, yerr=0.05, fmt='^', ms=5.5, mfc='none', color='indianred',
            zorder=3, label='Medicina (24GHz)', **eb)
ax.errorbar(iram100_mjd, iram100_flux, yerr=0.02, fmt='v', ms=5.5, mfc='none', color='#cd7f5a',
            zorder=3, label='IRAM (100GHz)', **eb)
ax.errorbar(iram230_mjd, iram230_flux, yerr=0.02, fmt='o', ms=5.5, mfc='none', color='#cd7f5a',
            zorder=3, label='IRAM (230GHz)', **eb)
ax.errorbar(sma230_mjd, sma230_flux, yerr=0.02, fmt='o', ms=5.5, mfc='none', color='orchid',
            zorder=3, label='SMA (230GHz)', **eb)
ax.errorbar(sma345_mjd, sma345_flux, yerr=0.04, fmt='D', ms=5, mfc='none', color='orchid',
            zorder=3, label='SMA (345GHz)', **eb)
ax.set_ylim(0.08, 2.9)
ax.set_yticks([1, 2])
ax.set_ylabel('Flux [Jy]', fontsize=10)
ax.legend(loc='upper left', ncol=4, columnspacing=1.8, **leg)
axr = ax.twinx()
axr.errorbar(ovro_mjd, ovro_flux, yerr=0.008, fmt='o', ms=2.5, color='#2ca02c', zorder=3,
             label='OVRO (15GHz)', **eb)
axr.set_ylim(0.93, 1.3)
axr.set_yticks([1.0, 1.1, 1.2, 1.3])
axr.tick_params(axis='y', labelsize=10)
axr.set_ylabel('OVRO Flux [Jy]', fontsize=10)
axr.legend(loc='upper right', **leg)

# polarization degree and angle
pol_sets = [
    ('Steward', steward_mjd, steward_pd, steward_mjd, steward_pa,
     dict(fmt='<', color='midnightblue')),
    ('Crimean', crimean_pd_mjd, crimean_pd, crimean_pa_mjd, crimean_pa,
     dict(fmt='v', color='mediumblue')),
    ('Perkins', perkins_mjd, perkins_pd, perkins_mjd, perkins_pa,
     dict(fmt='^', color='cornflowerblue')),
    ('NOT', not_mjd, not_pd, not_mjd, not_pa,
     dict(fmt='*', color='lightskyblue')),
    ('VLBA (43GHz)', vlba_mjd, vlba_pd, vlba_mjd, vlba_pa,
     dict(fmt='<', color='orangered', mfc='none')),
]
for name, xd, pd, xa, pa, style in pol_sets:
    axes[6].errorbar(xd, pd, yerr=0.8, ms=5, zorder=3, label=name, **style, **eb)
    axes[7].errorbar(xa, pa, yerr=6, ms=5, zorder=3, label=name, **style, **eb)

ax = axes[6]
ax.set_ylim(-10, 19.3)
ax.set_yticks([-10, 0, 10])
ax.set_ylabel('Pol. Deg. [%]', fontsize=10)
ax.legend(loc='lower center', ncol=5, columnspacing=1.2, **leg)

ax = axes[7]
ax.set_ylim(-72, 258)
ax.set_yticks([0, 100, 200])
ax.set_ylabel('Pol. Ang. [deg]', fontsize=10)
ax.legend(loc='lower center', ncol=5, columnspacing=1.2, **leg)
ax.set_xlim(57740, 59225)
ax.set_xticks(np.arange(57800, 59201, 200))
ax.set_xlabel('MJD', fontsize=10)

# band names on the right
band_font = dict(family=['Liberation Sans', 'DejaVu Sans'], fontsize=34, va='center', ha='left')
fig.text(0.842, 1 - 128 / 1194, '>0.2TeV\n(MAGIC)', style='italic', linespacing=1.05, **band_font)
fig.text(0.824, 1 - 240 / 1194, 'MeV-GeV', style='italic', **band_font)
fig.text(0.842, 1 - 375 / 1194, 'X-ray', style='italic', **band_font)
fig.text(0.842, 1 - 508 / 1194, 'UV', style='italic', **band_font)
fig.text(0.842, 1 - 643 / 1194, 'optical', style='italic', **band_font)
fig.text(0.871, 1 - 772 / 1194, 'Radio', **band_font)
fig.text(0.794, 1 - 925 / 1194, 'Polarization', **band_font)

fig.savefig('out.png', dpi=100)
